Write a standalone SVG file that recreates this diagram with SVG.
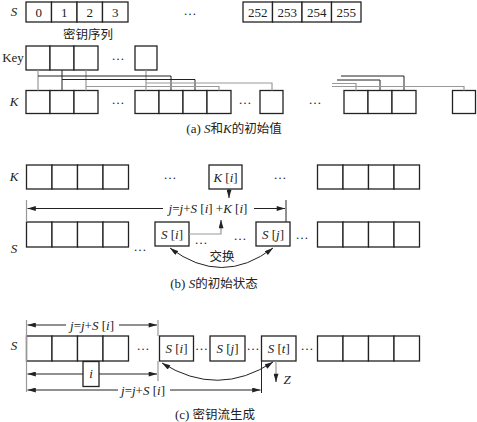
<svg xmlns="http://www.w3.org/2000/svg" width="477" height="422" viewBox="0 0 477 422">
<style>
.b{fill:#fff;stroke:#222;stroke-width:1.3}
.t{font-family:"Liberation Serif","Times New Roman",serif;font-size:13px;fill:#222;text-anchor:middle}
.i{font-style:italic}
.z{font-family:"Noto Sans CJK SC","Noto Sans CJK TC",sans-serif;font-size:12.5px}
.ln{stroke:#222;stroke-width:1;fill:none}
.gl{stroke:#999;stroke-width:1.2;fill:none}
.ar{marker-end:url(#ah)}
.ar2{marker-start:url(#ah);marker-end:url(#ah)}
</style>
<defs>
<marker id="ah" viewBox="0 0 10 6" refX="10" refY="3" markerWidth="9" markerHeight="5" orient="auto-start-reverse" markerUnits="userSpaceOnUse"><path d="M0,0 L10,3 L0,6 z" fill="#222"/></marker>
</defs>
<rect width="477" height="422" fill="#fff"/>

<!-- (a) -->
<g id="a-S">
<text class="t i" x="14" y="16">S</text>
<rect class="b" x="26" y="2" width="25.5" height="20"/>
<rect class="b" x="51.5" y="2" width="25.5" height="20"/>
<rect class="b" x="77" y="2" width="25.5" height="20"/>
<rect class="b" x="102.5" y="2" width="25.5" height="20"/>
<text class="t" x="38.8" y="16.5">0</text>
<text class="t" x="64.3" y="16.5">1</text>
<text class="t" x="89.8" y="16.5">2</text>
<text class="t" x="115.3" y="16.5">3</text>
<text class="t" x="190" y="15">…</text>
<rect class="b" x="243" y="2" width="29.5" height="20"/>
<rect class="b" x="272.5" y="2" width="29.5" height="20"/>
<rect class="b" x="302" y="2" width="29.5" height="20"/>
<rect class="b" x="331.5" y="2" width="29.5" height="20"/>
<text class="t" x="257.8" y="16.5">252</text>
<text class="t" x="287.3" y="16.5">253</text>
<text class="t" x="316.8" y="16.5">254</text>
<text class="t" x="346.3" y="16.5">255</text>
<text class="t z" x="88" y="39">密钥序列</text>
</g>
<g id="a-Key">
<text class="t" x="13" y="62">Key</text>
<rect class="b" x="26" y="46" width="24" height="24"/>
<rect class="b" x="50" y="46" width="24" height="24"/>
<rect class="b" x="74" y="46" width="24" height="24"/>
<text class="t" x="118" y="60">…</text>
<rect class="b" x="135" y="46" width="22" height="24"/>
</g>
<g id="a-K">
<text class="t i" x="14" y="106">K</text>
<rect class="b" x="26" y="90.5" width="24" height="23"/>
<rect class="b" x="50" y="90.5" width="24" height="23"/>
<rect class="b" x="74" y="90.5" width="24" height="23"/>
<text class="t" x="118" y="104">…</text>
<rect class="b" x="135" y="90.5" width="24" height="23"/>
<rect class="b" x="159" y="90.5" width="24" height="23"/>
<rect class="b" x="183" y="90.5" width="24" height="23"/>
<rect class="b" x="207" y="90.5" width="24" height="23"/>
<text class="t" x="245" y="104">…</text>
<rect class="b" x="260" y="90.5" width="23" height="23"/>
<text class="t" x="315" y="104">…</text>
<rect class="b" x="344" y="90.5" width="24" height="23"/>
<rect class="b" x="368" y="90.5" width="24" height="23"/>
<rect class="b" x="392" y="90.5" width="24" height="23"/>
<rect class="b" x="452.5" y="90.5" width="23" height="23"/>
</g>
<g id="a-caption">
<text class="t" x="234" y="133">(a) <tspan class="i">S</tspan><tspan class="z">和</tspan><tspan class="i">K</tspan><tspan class="z">的初始值</tspan></text>
</g>

<!-- (b) -->
<g id="b-K">
<text class="t i" x="14" y="181">K</text>
<rect class="b" x="26.5" y="165" width="25.5" height="24"/>
<rect class="b" x="52" y="165" width="25.5" height="24"/>
<rect class="b" x="77.5" y="165" width="25.5" height="24"/>
<rect class="b" x="103" y="165" width="25.5" height="24"/>
<text class="t" x="170" y="179">…</text>
<text class="t" x="280" y="179">…</text>
<rect class="b" x="317.5" y="165" width="25.5" height="24"/>
<rect class="b" x="343" y="165" width="25.5" height="24"/>
<rect class="b" x="368.5" y="165" width="25.5" height="24"/>
<rect class="b" x="394" y="165" width="25.5" height="24"/>
</g>
<g id="b-Ki">
<rect class="b" x="209" y="165" width="33" height="24"/>
<text class="t" x="225.5" y="181.5"><tspan class="i">K</tspan> [<tspan class="i">i</tspan>]</text>
</g>
<g id="b-formula">
<text class="t" x="208" y="213"><tspan class="i">j</tspan>=<tspan class="i">j</tspan>+<tspan class="i">S</tspan> [<tspan class="i">i</tspan>] +<tspan class="i">K</tspan> [<tspan class="i">i</tspan>]</text>
</g>
<g id="b-S">
<text class="t i" x="14" y="253">S</text>
<rect class="b" x="26.5" y="222" width="25.5" height="25"/>
<rect class="b" x="52" y="222" width="25.5" height="25"/>
<rect class="b" x="77.5" y="222" width="25.5" height="25"/>
<rect class="b" x="103" y="222" width="25.5" height="25"/>
<text class="t" x="140" y="251">…</text>
<text class="t" x="201" y="244">…</text>
<text class="t" x="240" y="240">…</text>
<text class="t" x="302" y="239">…</text>
<rect class="b" x="317.5" y="222" width="25.5" height="25"/>
<rect class="b" x="343" y="222" width="25.5" height="25"/>
<rect class="b" x="368.5" y="222" width="25.5" height="25"/>
<rect class="b" x="394" y="222" width="25.5" height="25"/>
</g>
<g id="b-Si">
<rect class="b" x="155" y="222" width="34" height="24"/>
<text class="t" x="172" y="239"><tspan class="i">S</tspan> [<tspan class="i">i</tspan>]</text>
</g>
<g id="b-Sj">
<rect class="b" x="256" y="222" width="34" height="24"/>
<text class="t" x="273" y="239"><tspan class="i">S</tspan> [<tspan class="i">j</tspan>]</text>
</g>
<g id="b-swap">
<text class="t z" x="222" y="261">交换</text>
</g>
<g id="b-caption">
<text class="t" x="214" y="288">(b) <tspan class="i">S</tspan><tspan class="z">的初始状态</tspan></text>
</g>

<!-- (c) -->
<g id="c-S">
<text class="t i" x="14" y="350">S</text>
<rect class="b" x="26.5" y="336" width="25.5" height="25"/>
<rect class="b" x="52" y="336" width="25.5" height="25"/>
<rect class="b" x="77.5" y="336" width="25.5" height="25"/>
<rect class="b" x="103" y="336" width="25.5" height="25"/>
<text class="t" x="143" y="350">…</text>
<text class="t" x="201.5" y="350">…</text>
<text class="t" x="253" y="350">…</text>
<text class="t" x="307" y="350">…</text>
<rect class="b" x="317.5" y="336" width="25.5" height="25"/>
<rect class="b" x="343" y="336" width="25.5" height="25"/>
<rect class="b" x="368.5" y="336" width="25.5" height="25"/>
<rect class="b" x="394" y="336" width="25.5" height="25"/>
</g>
<g id="c-Si">
<rect class="b" x="159.5" y="336" width="34" height="25"/>
<text class="t" x="176.5" y="353"><tspan class="i">S</tspan> [<tspan class="i">i</tspan>]</text>
</g>
<g id="c-Sj">
<rect class="b" x="210" y="336" width="35" height="25"/>
<text class="t" x="227.5" y="353"><tspan class="i">S</tspan> [<tspan class="i">j</tspan>]</text>
</g>
<g id="c-St">
<rect class="b" x="261.5" y="336" width="34.5" height="25"/>
<text class="t" x="278.7" y="353"><tspan class="i">S</tspan> [<tspan class="i">t</tspan>]</text>
</g>
<g id="c-i">
<rect class="b" x="83" y="361.5" width="16" height="25"/>
<text class="t i" x="91" y="378">i</text>
</g>
<g id="c-labels">
<text class="t" x="92" y="330"><tspan class="i">j</tspan>=<tspan class="i">j</tspan>+<tspan class="i">S</tspan> [<tspan class="i">i</tspan>]</text>
<text class="t" x="143" y="394.5"><tspan class="i">j</tspan>=<tspan class="i">j</tspan>+<tspan class="i">S</tspan> [<tspan class="i">i</tspan>]</text>
<text class="t i" x="287" y="384">Z</text>
</g>
<g id="c-caption">
<text class="t" x="215" y="419">(c) <tspan class="z">密钥流生成</tspan></text>
</g>

<g id="connectors">
<path class="gl" d="M38,70 V90.5"/>
<path class="ln" d="M62,70 V90.5"/>
<path class="gl" d="M86,70 V90.5"/>
<path class="gl" d="M146,70 V90.5"/>
<path class="ln" d="M38,76 H171 V90.5"/>
<path class="ln" d="M62,79.5 H195 V90.5"/>
<path class="gl" d="M86,86.5 H219 V90.5"/>
<path class="gl" d="M146,83 H272 V90.5"/>
<path class="ln" d="M341,76 H404 V90.5"/>
<path class="ln" d="M337,80 H380 V90.5"/>
<path class="gl" d="M332,83.5 H356 V90.5"/>
<path class="gl" d="M332,86.5 H464 V90.5"/>
<path class="ln ar" d="M229,189 V198"/>
<path class="ln ar" d="M163,208.5 H27.5"/>
<path class="gl" d="M26.5,200 V222"/>
<path class="ln ar" d="M254,208.5 H285"/>
<path class="ln" d="M286,200 V222"/>
<path class="gl" d="M189,234 H221 V226"/>
<path class="ln ar" d="M221,228 V220"/>
<path class="ln ar2" d="M170,248 Q222,287 273,248"/>
<path class="ln ar" d="M66,325 H27.5"/>
<path class="ln ar" d="M119,325 H157"/>
<path class="gl" d="M26.5,320 V392"/>
<path class="gl" d="M158,320 V336 M158,361 V381"/>
<path class="ln ar" d="M83,374 H27.5"/>
<path class="ln ar" d="M99,374 H157"/>
<path class="ln ar" d="M118,390 H27.5"/>
<path class="ln ar" d="M170,390 H260.5"/>
<path class="ln" d="M261.5,361 V393"/>
<path class="gl" d="M276,361 V375"/>
<path class="ln ar" d="M276,374 V382"/>
<path class="ln ar2" d="M162,363 Q218,398 273,362"/>
</g>
</svg>
